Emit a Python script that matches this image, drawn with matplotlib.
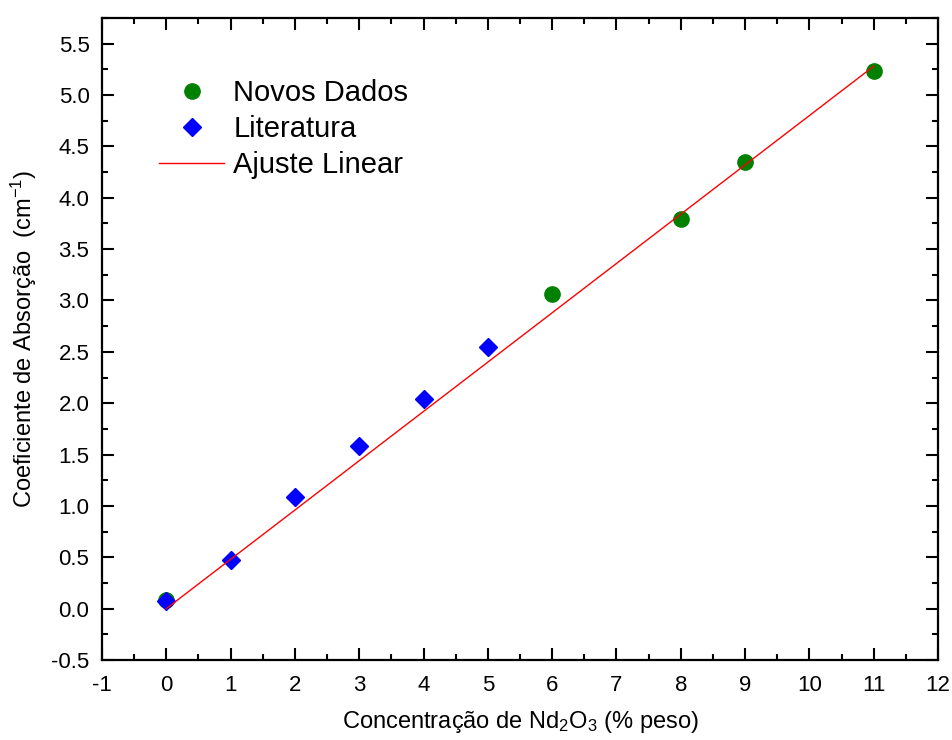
import matplotlib
matplotlib.use("Agg")
import matplotlib.pyplot as plt
from matplotlib.ticker import MultipleLocator, FormatStrFormatter
import numpy as np

# Data
novos_x = [0, 6, 8, 9, 11]
novos_y = [0.08, 3.06, 3.79, 4.35, 5.23]
lit_x = [0, 1, 2, 3, 4, 5]
lit_y = [0.07, 0.47, 1.09, 1.58, 2.04, 2.55]
fit_intercept = 0.0
fit_slope = 0.48
x_ticks = list(range(-1, 13))
y_ticks = [-0.5, 0.0, 0.5, 1.0, 1.5, 2.0, 2.5, 3.0, 3.5, 4.0, 4.5, 5.0, 5.5]

plt.rcParams['font.family'] = ['Liberation Sans', 'DejaVu Sans']
plt.rcParams['mathtext.fontset'] = 'custom'
plt.rcParams['mathtext.rm'] = 'Liberation Sans'
plt.rcParams['mathtext.it'] = 'Liberation Sans'
plt.rcParams['axes.unicode_minus'] = False

fig = plt.figure(figsize=(9.52, 7.40), dpi=100)
ax = fig.add_axes([0.1071, 0.1081, 0.8782, 0.8676])

ax.plot(novos_x, novos_y, 'o', color='#008000', markersize=11, label='Novos Dados', zorder=3)
ax.plot(lit_x, lit_y, 'D', color='#0000FF', markersize=9, label='Literatura', zorder=4)
all_x = np.array(novos_x + lit_x)
fx = np.array([all_x.min(), all_x.max()])
ax.plot(fx, fit_intercept + fit_slope * fx, '-', color='#FF0000', lw=1.0, label='Ajuste Linear', zorder=5)

ax.set_xlim(-1, 12)
ax.set_ylim(-0.5, 5.75)
ax.set_xticks(x_ticks)
ax.set_yticks(y_ticks)
ax.xaxis.set_minor_locator(MultipleLocator(0.5))
ax.yaxis.set_minor_locator(MultipleLocator(0.25))
ax.yaxis.set_major_formatter(FormatStrFormatter('%.1f'))

for s in ax.spines.values():
    s.set_linewidth(1.6)
ax.tick_params(which='both', direction='in', top=True, right=True, width=1.5)
ax.tick_params(which='major', length=8.5, labelsize=16)
ax.tick_params(axis='x', which='major', pad=11)
ax.tick_params(axis='y', which='major', pad=9)
ax.tick_params(which='minor', length=4.5)

ax.set_xlabel(r'Concentração de Nd$_2$O$_3$ (% peso)', fontsize=17, labelpad=9)
ax.set_ylabel(r'Coeficiente de Absorção  (cm$^{-1}$)', fontsize=17, labelpad=9)

ax.legend(loc='upper left', bbox_to_anchor=(0.068, 0.905), frameon=False, fontsize=21,
          borderpad=0, borderaxespad=0, handlelength=2.25, handletextpad=0.3,
          labelspacing=0.27, numpoints=1)

fig.savefig('out.png', dpi=100)
